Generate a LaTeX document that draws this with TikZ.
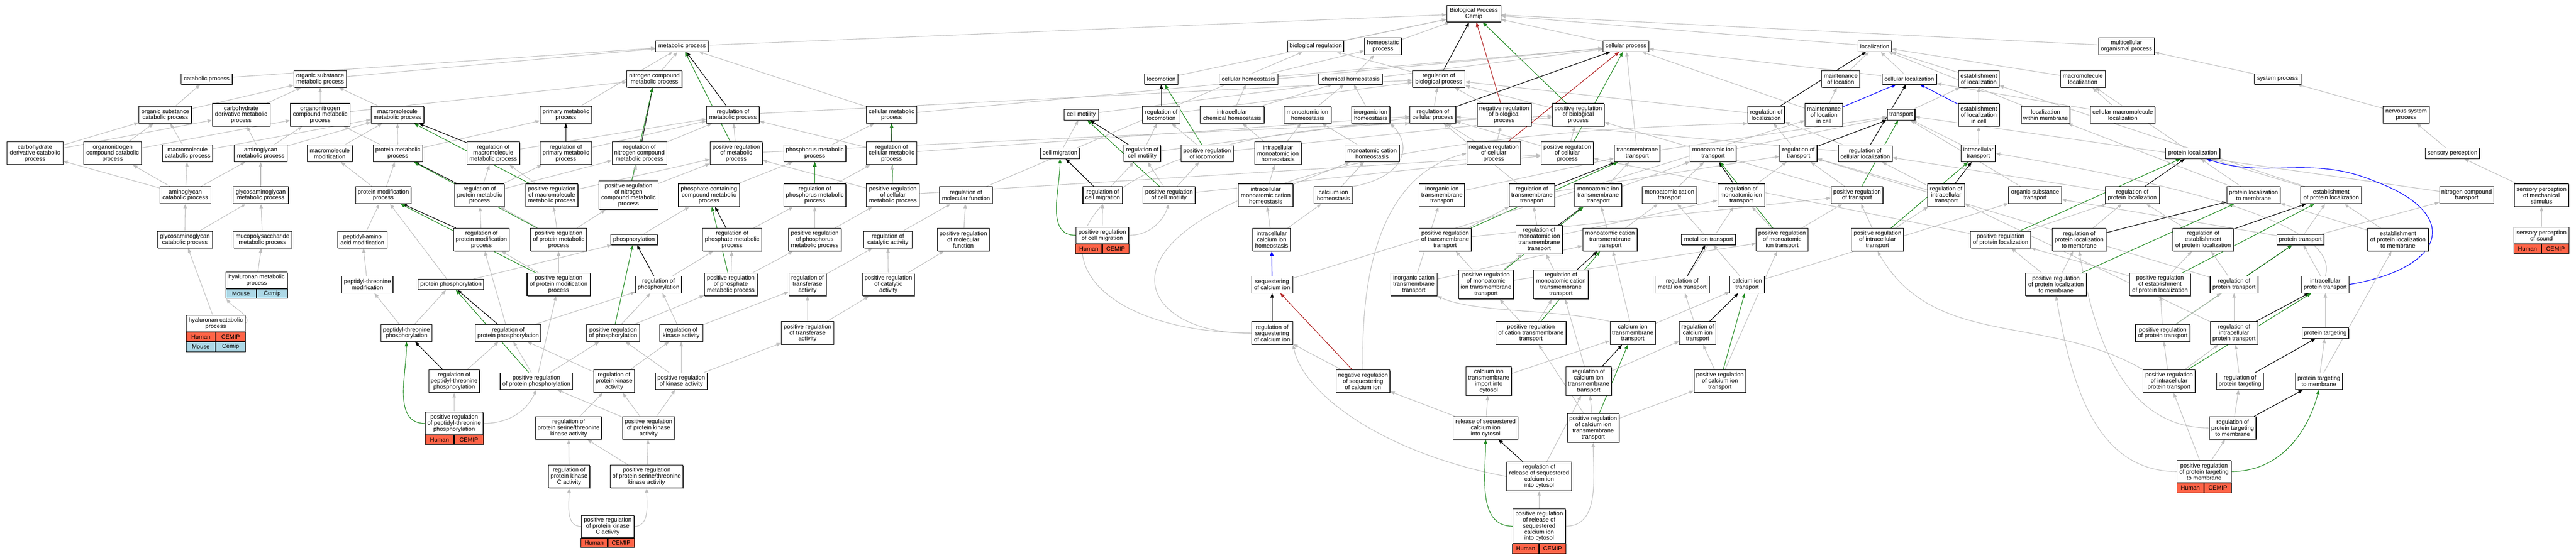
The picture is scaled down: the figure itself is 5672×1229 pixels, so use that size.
\documentclass[tikz,border=0pt]{standalone}
\usepackage{fontspec}
\setmainfont{Liberation Sans}
\usetikzlibrary{arrows.meta,shadows}
\definecolor{egray}{HTML}{BEBEBE}
\definecolor{egreen}{HTML}{228B22}
\definecolor{ered}{HTML}{B22222}
\definecolor{eblue}{HTML}{0000FF}
\definecolor{htom}{HTML}{FF6347}
\definecolor{mblue}{HTML}{ADD8E6}
\pgfdeclarelayer{back}\pgfdeclarelayer{edges}\pgfsetlayers{back,edges,main}
\tikzset{
 box/.style={draw=black,line width=1.2pt,fill=white,align=center,inner xsep=2pt,inner ysep=2pt,font=\fontsize{13}{13.5}\selectfont,drop shadow={shadow xshift=1.2pt,shadow yshift=-1.2pt,fill=black!65,opacity=1}},
 hcell/.style={draw=black,line width=1.2pt,fill=htom,inner sep=0pt,minimum height=21pt,font=\fontsize{13}{13.5}\selectfont},
 mcell/.style={draw=black,line width=1.2pt,fill=mblue,inner sep=0pt,minimum height=21pt,font=\fontsize{13}{13.5}\selectfont},
 myarrow/.style={-{Triangle[length=10pt,width=7.5pt]}},
 ge/.style={draw=egray,line width=1.2pt,myarrow},
 gk/.style={draw=black,line width=1.3pt,myarrow},
 gg/.style={draw=egreen,line width=1.3pt,myarrow},
 gr/.style={draw=ered,line width=1.3pt,myarrow},
 gb/.style={draw=eblue,line width=1.3pt,myarrow},
}
\newcommand\mynode[6]{\node[box,minimum width=#4pt,minimum height=#5pt] (#1) at (#2,#3) {#6};}
\newcommand\mygnode[6]{\node[box,anchor=north,minimum width=#4pt,minimum height=#5pt] (#1) at (#2,#3) {#6};}
\newcommand\myhrow[3]{\node[hcell,anchor=north east,minimum width=#3pt] (#1a) at (#2) {Human};\node[hcell,anchor=north west,minimum width=#3pt] (#1b) at (#2) {CEMIP};}
\newcommand\mymrow[3]{\node[mcell,anchor=north east,minimum width=#3pt] (#1a) at (#2) {Mouse};\node[mcell,anchor=north west,minimum width=#3pt] (#1b) at (#2) {Cemip};}
\newcommand\myedge[3]{\draw[#1] (#2) -- (#3);}
\begin{document}
\begin{tikzpicture}[x=1pt,y=-1pt]
\begin{pgfonlayer}{back}\fill[white] (0,0) rectangle (5672,1229);\end{pgfonlayer}
\useasboundingbox (0,0) rectangle (5672,1229);
% row 30
\mynode{BP}{3245}{30}{119}{37}{Biological Process\\Cemip}
% row 102
\mynode{met}{1502}{102}{116}{23}{metabolic process}
\mynode{breg}{2897}{102}{123}{23}{biological regulation}
\mynode{homeo}{3045}{102}{81}{37}{homeostatic\\process}
\mynode{cproc}{3580}{102}{101}{23}{cellular process}
\mynode{loc}{4128}{102}{74}{23}{localization}
\mynode{multi}{4682}{102}{123}{37}{multicellular\\organismal process}
% row 174
\mynode{cat}{455}{174}{113}{23}{catabolic process}
\mynode{osm}{705}{174}{115}{37}{organic substance\\metabolic process}
\mynode{ncm}{1441}{174}{121}{37}{nitrogen compound\\metabolic process}
\mynode{locom}{2557}{174}{73}{23}{locomotion}
\mynode{chom}{2749}{174}{129}{23}{cellular homeostasis}
\mynode{chemh}{2974}{174}{140}{23}{chemical homeostasis}
\mynode{rbp}{3168}{174}{115}{37}{regulation of\\biological process}
\mynode{mloc}{4053}{174}{84}{37}{maintenance\\of location}
\mynode{cloc}{4204}{174}{120}{23}{cellular localization}
\mynode{eloc}{4357}{174}{89}{37}{establishment\\of localization}
\mynode{mmloc}{4586}{174}{99}{37}{macromolecule\\localization}
\mynode{sysp}{5015}{174}{103}{23}{system process}
% row 253
\mynode{osc}{364}{253}{116}{37}{organic substance\\catabolic process}
\mynode{cdm}{531}{253}{127}{50}{carbohydrate\\derivative metabolic\\process}
\mynode{oncm}{705}{253}{131}{50}{organonitrogen\\compound metabolic\\process}
\mynode{mmm}{875}{253}{116}{37}{macromolecule\\metabolic process}
\mynode{pmp}{1246}{253}{113}{37}{primary metabolic\\process}
\mynode{rmp}{1614}{253}{116}{37}{regulation of\\metabolic process}
\mynode{cmp}{1963}{253}{111}{37}{cellular metabolic\\process}
\mynode{cmot}{2381}{253}{76}{23}{cell motility}
\mynode{rlocom}{2557}{253}{82}{37}{regulation of\\locomotion}
\mynode{icheh}{2713}{253}{141}{37}{intracellular\\chemical homeostasis}
\mynode{mih}{2879}{253}{104}{37}{monoatomic ion\\homeostasis}
\mynode{iih}{3018}{253}{84}{37}{inorganic ion\\homeostasis}
\mynode{rcp}{3155}{253}{101}{37}{regulation of\\cellular process}
\mynode{nrbp}{3312}{253}{119}{50}{negative regulation\\of biological\\process}
\mynode{prbp}{3475}{253}{114}{50}{positive regulation\\of biological\\process}
\mynode{rloc}{3889}{253}{81}{37}{regulation of\\localization}
\mynode{mlocc}{4016}{253}{83}{50}{maintenance\\of location\\in cell}
\mynode{transp}{4186}{253}{61}{23}{transport}
\mynode{elocc}{4357}{253}{90}{50}{establishment\\of localization\\in cell}
\mynode{locwm}{4504}{253}{107}{37}{localization\\within membrane}
\mynode{cmmloc}{4674}{253}{142}{37}{cellular macromolecule\\localization}
\mynode{nsp}{5298}{253}{102}{37}{nervous system\\process}
% row 338
\mynode{cdc}{77}{338}{123}{50}{carbohydrate\\derivative catabolic\\process}
\mynode{oncc}{248}{338}{127}{50}{organonitrogen\\compound catabolic\\process}
\mynode{mmc}{413}{338}{110}{37}{macromolecule\\catabolic process}
\mynode{agm}{574}{338}{116}{37}{aminoglycan\\metabolic process}
\mynode{mmmod}{726}{338}{99}{37}{macromolecule\\modification}
\mynode{protm}{876}{338}{109}{37}{protein metabolic\\process}
\mynode{rmmm}{1086}{338}{116}{50}{regulation of\\macromolecule\\metabolic process}
\mynode{rpmp}{1246}{338}{113}{50}{regulation of\\primary metabolic\\process}
\mynode{rncm}{1408}{338}{120}{50}{regulation of\\nitrogen compound\\metabolic process}
\mynode{prmp}{1621}{338}{115}{50}{positive regulation\\of metabolic\\process}
\mynode{phosm}{1794}{338}{137}{37}{phosphorus metabolic\\process}
\mynode{rcmp}{1963}{338}{111}{50}{regulation of\\cellular metabolic\\process}
\mynode{cmig}{2334}{338}{87}{23}{cell migration}
\mynode{rcmot}{2515}{338}{81}{37}{regulation of\\cell motility}
\mynode{prlocom}{2658}{338}{115}{37}{positive regulation\\of locomotion}
\mynode{imih}{2814}{338}{102}{50}{intracellular\\monoatomic ion\\homeostasis}
\mynode{mch}{3021}{338}{120}{37}{monoatomic cation\\homeostasis}
\mynode{nrcp}{3289}{338}{118}{50}{negative regulation\\of cellular\\process}
\mynode{prcp}{3451}{338}{115}{50}{positive regulation\\of cellular\\process}
\mynode{tmt}{3605}{338}{100}{37}{transmembrane\\transport}
\mynode{mit}{3772}{338}{101}{37}{monoatomic ion\\transport}
\mynode{rtransp}{3960}{338}{82}{37}{regulation of\\transport}
\mynode{rcloc}{4107}{338}{119}{37}{regulation of\\cellular localization}
\mynode{ict}{4356}{338}{75}{37}{intracellular\\transport}
\mynode{ploc}{4828}{338}{119}{23}{protein localization}
\mynode{sensp}{5400}{338}{119}{23}{sensory perception}
% row 430
\mynode{agc}{408}{430}{112}{37}{aminoglycan\\catabolic process}
\mynode{gagm}{574}{430}{122}{37}{glycosaminoglycan\\metabolic process}
\mynode{pmod}{844}{430}{122}{37}{protein modification\\process}
\mynode{rprotm}{1056}{430}{109}{50}{regulation of\\protein metabolic\\process}
\mynode{prmmm}{1215}{430}{115}{50}{positive regulation\\of macromolecule\\metabolic process}
\mynode{prncm}{1384}{430}{130}{63}{positive regulation\\of nitrogen\\compound metabolic\\process}
\mynode{pcm}{1561}{430}{134}{50}{phosphate-containing\\compound metabolic\\process}
\mynode{rphosm}{1794}{430}{137}{50}{regulation of\\phosphorus metabolic\\process}
\mynode{prcmp}{1966}{430}{116}{50}{positive regulation\\of cellular\\metabolic process}
\mynode{rmf}{2127}{430}{116}{37}{regulation of\\molecular function}
\mynode{rcmig}{2428}{430}{87}{37}{regulation of\\cell migration}
\mynode{prcmot}{2574}{430}{115}{37}{positive regulation\\of cell motility}
\mynode{imch}{2787}{430}{120}{50}{intracellular\\monoatomic cation\\homeostasis}
\mynode{cih}{2936}{430}{85}{37}{calcium ion\\homeostasis}
\mynode{iitmt}{3175}{430}{100}{50}{inorganic ion\\transmembrane\\transport}
\mynode{rtmt}{3373}{430}{100}{50}{regulation of\\transmembrane\\transport}
\mynode{mitmt}{3519}{430}{103}{50}{monoatomic ion\\transmembrane\\transport}
\mynode{mct}{3676}{430}{120}{37}{monoatomic cation\\transport}
\mynode{rmit}{3834}{430}{103}{50}{regulation of\\monoatomic ion\\transport}
\mynode{prtransp}{4089}{430}{114}{37}{positive regulation\\of transport}
\mynode{rict}{4285}{430}{81}{50}{regulation of\\intracellular\\transport}
\mynode{ost}{4481}{430}{116}{37}{organic substance\\transport}
\mynode{rploc}{4695}{430}{119}{37}{regulation of\\protein localization}
\mynode{ploctm}{4962}{430}{117}{37}{protein localization\\to membrane}
\mynode{eploc}{5133}{430}{134}{37}{establishment\\of protein localization}
\mynode{nct}{5431}{430}{119}{37}{nitrogen compound\\transport}
\mynode{spms}{5596}{430}{120}{50}{sensory perception\\of mechanical\\stimulus}
% row 528
\mynode{gagc}{407}{528}{121}{37}{glycosaminoglycan\\catabolic process}
\mynode{mpsm}{578}{528}{129}{37}{mucopolysaccharide\\metabolic process}
\mynode{paam}{798}{528}{108}{37}{peptidyl-amino\\acid modification}
\mynode{rpmod}{1060}{528}{122}{50}{regulation of\\protein modification\\process}
\mynode{prprotm}{1230}{528}{124}{50}{positive regulation\\of protein metabolic\\process}
\mynode{phos}{1396}{528}{102}{23}{phosphorylation}
\mynode{rphm}{1612}{528}{130}{50}{regulation of\\phosphate metabolic\\process}
\mynode{prphosm}{1794}{528}{116}{50}{positive regulation\\of phosphorus\\metabolic process}
\mynode{rca}{1955}{528}{106}{37}{regulation of\\catalytic activity}
\mynode{prmf}{2121}{528}{115}{50}{positive regulation\\of molecular\\function}
\mygnode{prcmig}{2427}{500}{116}{36}{positive regulation\\of cell migration}
\myhrow{prcmigH}{prcmig.south}{58}
\mynode{icih}{2800}{528}{83}{50}{intracellular\\calcium ion\\homeostasis}
\mynode{prtmt}{3182}{528}{115}{50}{positive regulation\\of transmembrane\\transport}
\mynode{rmitmt}{3389}{528}{103}{63}{regulation of\\monoatomic ion\\transmembrane\\transport}
\mynode{mctmt}{3545}{528}{120}{50}{monoatomic cation\\transmembrane\\transport}
\mynode{mitr}{3762}{528}{119}{23}{metal ion transport}
\mynode{prmit}{3924}{528}{114}{50}{positive regulation\\of monoatomic\\ion transport}
\mynode{prict}{4134}{528}{115}{50}{positive regulation\\of intracellular\\transport}
\mynode{prploc}{4405}{528}{133}{37}{positive regulation\\of protein localization}
\mynode{rploctm}{4578}{528}{118}{50}{regulation of\\protein localization\\to membrane}
\mynode{reploc}{4851}{528}{133}{50}{regulation of\\establishment\\of protein localization}
\mynode{ptr}{5065}{528}{104}{23}{protein transport}
\mynode{eploctm}{5280}{528}{134}{50}{establishment\\of protein localization\\to membrane}
\mygnode{sps}{5596}{500}{121}{36}{sensory perception\\of sound}
\myhrow{spsH}{sps.south}{60.5}
% row 627
\mygnode{hyam}{565}{599}{135}{36}{hyaluronan metabolic\\process}
\mymrow{hyamM}{hyam.south}{67.5}
\mynode{ptm}{809}{627}{112}{37}{peptidyl-threonine\\modification}
\mynode{pphos}{993}{627}{144}{23}{protein phosphorylation}
\mynode{prpmod}{1230}{627}{139}{50}{positive regulation\\of protein modification\\process}
\mynode{rphosph}{1450}{627}{101}{37}{regulation of\\phosphorylation}
\mynode{prphm}{1609}{627}{116}{50}{positive regulation\\of phosphate\\metabolic process}
\mynode{rta}{1778}{627}{82}{50}{regulation of\\transferase\\activity}
\mynode{prca}{1956}{627}{114}{50}{positive regulation\\of catalytic\\activity}
\mynode{seqca}{2801}{627}{91}{37}{sequestering\\of calcium ion}
\mynode{ictmt}{3113}{627}{102}{50}{inorganic cation\\transmembrane\\transport}
\mynode{prmitmt}{3272}{627}{121}{64}{positive regulation\\of monoatomic\\ion transmembrane\\transport}
\mynode{rmctmt}{3437}{627}{120}{64}{regulation of\\monoatomic cation\\transmembrane\\transport}
\mynode{rmitr}{3704}{627}{119}{37}{regulation of\\metal ion transport}
\mynode{catr}{3847}{627}{76}{37}{calcium ion\\transport}
\mynode{prploctm}{4527}{627}{134}{50}{positive regulation\\of protein localization\\to membrane}
\mynode{preploc}{4756}{627}{134}{50}{positive regulation\\of establishment\\of protein localization}
\mynode{rptr}{4919}{627}{105}{37}{regulation of\\protein transport}
\mynode{iptr}{5120}{627}{104}{37}{intracellular\\protein transport}
% row 734
\mygnode{hyac}{475}{694}{129}{36}{hyaluronan catabolic\\process}
\myhrow{hyacH}{hyac.south}{64.5}
\mymrow{hyacM}{hyacHa.south east}{64.5}
\mynode{ptp}{895}{734}{112}{37}{peptidyl-threonine\\phosphorylation}
\mynode{rpphos}{1119}{734}{144}{37}{regulation of\\protein phosphorylation}
\mynode{prphosph}{1350}{734}{116}{37}{positive regulation\\of phosphorylation}
\mynode{rka}{1500}{734}{95}{37}{regulation of\\kinase activity}
\mynode{prta}{1778}{734}{115}{50}{positive regulation\\of transferase\\activity}
\mynode{rseqca}{2801}{734}{91}{50}{regulation of\\sequestering\\of calcium ion}
\mynode{prctmt}{3371}{734}{155}{50}{positive regulation\\of cation transmembrane\\transport}
\mynode{catmt}{3595}{734}{100}{50}{calcium ion\\transmembrane\\transport}
\mynode{rcat}{3738}{734}{80}{50}{regulation of\\calcium ion\\transport}
\mynode{prptr}{4762}{734}{120}{37}{positive regulation\\of protein transport}
\mynode{rIPT}{4919}{734}{104}{50}{regulation of\\intracellular\\protein transport}
\mynode{ptarg}{5120}{734}{103}{23}{protein targeting}
% row 840
\mynode{rptp}{1000}{840}{112}{50}{regulation of\\peptidyl-threonine\\phosphorylation}
\mynode{prpphos}{1181}{840}{159}{37}{positive regulation\\of protein phosphorylation}
\mynode{rpka}{1352}{840}{90}{50}{regulation of\\protein kinase\\activity}
\mynode{prka}{1500}{840}{114}{37}{positive regulation\\of kinase activity}
\mynode{nrseqca}{3001}{840}{119}{50}{negative regulation\\of sequestering\\of calcium ion}
\mynode{catmic}{3278}{840}{100}{63}{calcium ion\\transmembrane\\import into\\cytosol}
\mynode{rcatmt}{3498}{840}{100}{63}{regulation of\\calcium ion\\transmembrane\\transport}
\mynode{prcat}{3787}{840}{114}{50}{positive regulation\\of calcium ion\\transport}
\mynode{priptr}{4776}{840}{114}{50}{positive regulation\\of intracellular\\protein transport}
\mynode{rptarg}{4932}{840}{103}{37}{regulation of\\protein targeting}
\mynode{ptargm}{5106}{840}{103}{37}{protein targeting\\to membrane}
% row 943
\mygnode{prptp}{1000}{908}{127}{49}{positive regulation\\of peptidyl-threonine\\phosphorylation}
\myhrow{prptpH}{prptp.south}{63.5}
\mynode{rpska}{1252}{943}{145}{50}{regulation of\\protein serine/threonine\\kinase activity}
\mynode{prpka}{1428}{943}{114}{50}{positive regulation\\of protein kinase\\activity}
\mynode{rseq}{3271}{943}{142}{50}{release of sequestered\\calcium ion\\into cytosol}
\mynode{prcatmt}{3508}{943}{114}{63}{positive regulation\\of calcium ion\\transmembrane\\transport}
\mynode{rptargm}{4916}{943}{103}{50}{regulation of\\protein targeting\\to membrane}
% row 1050
\mynode{rpkc}{1253}{1050}{91}{50}{regulation of\\protein kinase\\C activity}
\mynode{prpska}{1424}{1050}{160}{50}{positive regulation\\of protein serine/threonine\\kinase activity}
\mynode{rrseq}{3389}{1050}{142}{63}{regulation of\\release of sequestered\\calcium ion\\into cytosol}
\mygnode{prptargm}{4853}{1014}{119}{49}{positive regulation\\of protein targeting\\to membrane}
\myhrow{prptargmH}{prptargm.south}{59.5}
% bottom
\mygnode{prpkc}{1338}{1135}{116}{49}{positive regulation\\of protein kinase\\C activity}
\myhrow{prpkcH}{prpkc.south}{58}
\mygnode{prrseq}{3389}{1121}{116}{76}{positive regulation\\of release of\\sequestered\\calcium ion\\into cytosol}
\myhrow{prrseqH}{prrseq.south}{58}

\begin{pgfonlayer}{edges}
% to root
\myedge{ge}{met}{BP}\myedge{ge}{breg}{BP}\myedge{ge}{homeo}{BP}\myedge{ge}{cproc}{BP}
\myedge{ge}{loc}{BP}\myedge{ge}{multi}{BP}\myedge{ge}{locom}{BP}
\myedge{gk}{rbp}{BP}\myedge{gr}{nrbp}{BP}\myedge{gg}{prbp}{BP}
% row 174
\myedge{ge}{cat}{met}\myedge{ge}{osm}{met}\myedge{ge}{ncm}{met}
\myedge{ge}{chom}{homeo}\myedge{ge}{chom}{cproc}\myedge{ge}{chemh}{homeo}
\myedge{ge}{rbp}{breg}\myedge{ge}{mloc}{loc}\myedge{ge}{cloc}{loc}\myedge{ge}{cloc}{cproc}
\myedge{ge}{eloc}{loc}\myedge{ge}{mmloc}{loc}\myedge{ge}{sysp}{multi}
% row 253
\myedge{ge}{osc}{cat}\myedge{ge}{osc}{osm}\myedge{ge}{cdm}{osm}
\myedge{ge}{oncm}{osm}\myedge{ge}{oncm}{ncm}\myedge{ge}{mmm}{osm}
\myedge{ge}{pmp}{met}\myedge{gk}{rmp}{met}\myedge{ge}{rmp}{rbp}
\myedge{ge}{cmp}{met}\myedge{ge}{cmp}{cproc}\myedge{ge}{cmot}{cproc}
\myedge{gk}{rlocom}{locom}\myedge{ge}{rlocom}{rbp}
\myedge{ge}{icheh}{chom}\myedge{ge}{icheh}{chemh}\myedge{ge}{mih}{chemh}\myedge{ge}{iih}{chemh}
\myedge{ge}{rcp}{rbp}\myedge{gk}{rcp}{cproc}\myedge{ge}{nrbp}{rbp}\myedge{ge}{prbp}{rbp}
\myedge{gk}{rloc}{loc}\myedge{ge}{rloc}{rbp}
\myedge{ge}{mlocc}{mloc}\myedge{gb}{mlocc}{cloc}\myedge{ge}{mlocc}{cproc}
\myedge{ge}{transp}{eloc}\myedge{ge}{elocc}{eloc}\myedge{gb}{elocc}{cloc}
\myedge{ge}{locwm}{loc}\myedge{ge}{cmmloc}{mmloc}\myedge{ge}{cmmloc}{cloc}\myedge{ge}{nsp}{sysp}
% row 338
\myedge{ge}{cdc}{osc}\myedge{ge}{cdc}{cdm}\myedge{ge}{oncc}{osc}\myedge{ge}{oncc}{oncm}
\myedge{ge}{mmc}{osc}\myedge{ge}{mmc}{mmm}
\myedge{ge}{agm}{cdm}\myedge{ge}{agm}{oncm}\myedge{ge}{agm}{mmm}
\myedge{ge}{mmmod}{mmm}\myedge{ge}{protm}{oncm}\myedge{ge}{protm}{mmm}\myedge{ge}{protm}{pmp}
\myedge{gk}{rmmm}{mmm}\myedge{ge}{rmmm}{rmp}\myedge{gk}{rpmp}{pmp}\myedge{ge}{rpmp}{rmp}
\myedge{gk}{rncm}{ncm}\myedge{ge}{rncm}{rmp}
\myedge{gg}{prmp}{met}\myedge{ge}{prmp}{rmp}\myedge{ge}{prmp}{prbp}
\myedge{ge}{phosm}{cmp}\myedge{gk}{rcmp}{cmp}\myedge{ge}{rcmp}{rmp}\myedge{ge}{rcmp}{rcp}
\myedge{ge}{cmig}{cmot}\myedge{gk}{rcmot}{cmot}\myedge{ge}{rcmot}{rlocom}\myedge{ge}{rcmot}{rcp}
\myedge{ge}{prlocom}{rlocom}\myedge{gg}{prlocom}{locom}\myedge{ge}{prlocom}{prbp}
\myedge{ge}{imih}{icheh}\myedge{ge}{imih}{mih}\myedge{ge}{mch}{mih}
\myedge{ge}{nrcp}{rcp}\myedge{ge}{nrcp}{nrbp}\myedge{gr}{nrcp}{cproc}
\myedge{ge}{prcp}{rcp}\myedge{ge}{prcp}{prbp}\myedge{gg}{prcp}{cproc}
\myedge{ge}{tmt}{transp}\myedge{ge}{tmt}{cproc}\myedge{ge}{mit}{transp}
\myedge{gk}{rtransp}{transp}\myedge{ge}{rtransp}{rloc}
\myedge{gk}{rcloc}{cloc}\myedge{ge}{rcloc}{rloc}\myedge{ge}{rcloc}{rcp}
\myedge{ge}{ict}{transp}\myedge{ge}{ict}{elocc}\myedge{ge}{ploc}{mmloc}\myedge{ge}{sensp}{nsp}
% row 430
\myedge{ge}{agc}{cdc}\myedge{ge}{agc}{oncc}\myedge{ge}{agc}{mmc}\myedge{ge}{agc}{agm}
\myedge{ge}{gagm}{agm}\myedge{ge}{pmod}{mmmod}\myedge{ge}{pmod}{protm}
\myedge{gk}{rprotm}{protm}\myedge{ge}{rprotm}{rmmm}\myedge{ge}{rprotm}{rpmp}\myedge{ge}{rprotm}{rncm}
\myedge{gg}{prmmm}{mmm}\myedge{ge}{prmmm}{rmmm}\myedge{ge}{prmmm}{prmp}
\myedge{gg}{prncm}{ncm}\myedge{ge}{prncm}{rncm}\myedge{ge}{prncm}{prmp}
\myedge{ge}{pcm}{phosm}\myedge{gk}{rphosm}{phosm}\myedge{ge}{rphosm}{rcmp}
\myedge{gg}{prcmp}{cmp}\myedge{ge}{prcmp}{rcmp}\myedge{ge}{prcmp}{prmp}\myedge{ge}{prcmp}{prcp}
\myedge{ge}{rmf}{breg}\myedge{gk}{rcmig}{cmig}\myedge{ge}{rcmig}{rcmot}
\myedge{ge}{prcmot}{rcmot}\myedge{gg}{prcmot}{cmot}\myedge{ge}{prcmot}{prlocom}\myedge{ge}{prcmot}{prcp}
\myedge{ge}{imch}{imih}\myedge{ge}{imch}{mch}\myedge{ge}{cih}{mch}
\draw[ge] (cih.north east) .. controls (3095,390) and (3110,320) .. (iih.south east);
\myedge{ge}{iitmt}{tmt}\myedge{gk}{rtmt}{tmt}\myedge{ge}{rtmt}{rtransp}\myedge{ge}{rtmt}{rcp}
\myedge{ge}{mitmt}{tmt}\myedge{ge}{mitmt}{mit}\myedge{ge}{mct}{mit}
\myedge{gk}{rmit}{mit}\myedge{ge}{rmit}{rtransp}
\myedge{gg}{prtransp}{transp}\myedge{ge}{prtransp}{rtransp}\myedge{ge}{prtransp}{prbp}
\myedge{gk}{rict}{ict}\myedge{ge}{rict}{rtransp}\myedge{ge}{rict}{rcloc}
\myedge{ge}{ost}{transp}\myedge{gk}{rploc}{ploc}\myedge{ge}{rploc}{rcloc}
\myedge{ge}{ploctm}{ploc}\myedge{ge}{ploctm}{locwm}\myedge{ge}{eploc}{ploc}\myedge{ge}{eploc}{eloc}
\myedge{ge}{nct}{transp}\myedge{ge}{spms}{sensp}
% row 528
\myedge{ge}{gagc}{agc}\myedge{ge}{gagc}{gagm}\myedge{ge}{mpsm}{gagm}\myedge{ge}{paam}{pmod}
\myedge{gk}{rpmod}{pmod}\myedge{ge}{rpmod}{rprotm}
\myedge{gg}{prprotm}{protm}\myedge{ge}{prprotm}{rprotm}\myedge{ge}{prprotm}{prmmm}\myedge{ge}{prprotm}{prncm}
\myedge{ge}{phos}{pcm}\myedge{gk}{rphm}{pcm}\myedge{ge}{rphm}{rphosm}
\myedge{gg}{prphosm}{phosm}\myedge{ge}{prphosm}{rphosm}\myedge{ge}{prphosm}{prcmp}
\myedge{ge}{rca}{rmf}\myedge{ge}{prmf}{rmf}
\draw[gg] (prcmig.west) to[out=180,in=-90] (cmig.south);
\myedge{ge}{prcmig}{rcmig}
\draw[ge] (prcmig.east) to[out=0,in=-110] (prcmot.south);
\myedge{ge}{icih}{imch}\myedge{ge}{icih}{cih}
\myedge{gg}{prtmt}{tmt}\myedge{ge}{prtmt}{rtmt}\myedge{ge}{prtmt}{prtransp}
\myedge{gk}{rmitmt}{mitmt}\myedge{ge}{rmitmt}{rtmt}\myedge{ge}{rmitmt}{rmit}
\myedge{ge}{mctmt}{mitmt}\myedge{ge}{mctmt}{mct}\myedge{ge}{mitr}{mct}
\myedge{gg}{prmit}{mit}\myedge{ge}{prmit}{rmit}\myedge{ge}{prmit}{prtransp}
\myedge{gg}{prict}{ict}\myedge{ge}{prict}{rict}\myedge{ge}{prict}{prtransp}
\myedge{gg}{prploc}{ploc}\myedge{ge}{prploc}{rploc}\myedge{ge}{prploc}{prcp}
\myedge{gk}{rploctm}{ploctm}\myedge{ge}{rploctm}{rploc}
\myedge{gk}{reploc}{eploc}\myedge{ge}{reploc}{rploc}
\myedge{ge}{ptr}{eploc}\myedge{ge}{ptr}{ost}\myedge{ge}{ptr}{nct}
\myedge{ge}{eploctm}{ploctm}\myedge{ge}{eploctm}{eploc}\myedge{ge}{sps}{spms}
% row 627
\myedge{ge}{hyam}{mpsm}\myedge{ge}{ptm}{paam}\myedge{ge}{pphos}{pmod}\myedge{ge}{pphos}{phos}
\myedge{gg}{prpmod}{pmod}\myedge{ge}{prpmod}{rpmod}\myedge{ge}{prpmod}{prprotm}
\myedge{gk}{rphosph}{phos}\myedge{ge}{rphosph}{rphm}
\myedge{gg}{prphm}{pcm}\myedge{ge}{prphm}{rphm}\myedge{ge}{prphm}{prphosm}
\myedge{ge}{rta}{rca}\myedge{ge}{prca}{rca}\myedge{ge}{prca}{prmf}
\myedge{gb}{seqca}{icih}\myedge{ge}{seqca}{mlocc}
\myedge{ge}{ictmt}{iitmt}\myedge{ge}{ictmt}{mctmt}
\myedge{gg}{prmitmt}{mitmt}\myedge{ge}{prmitmt}{rmitmt}\myedge{ge}{prmitmt}{prtmt}\myedge{ge}{prmitmt}{prmit}
\myedge{gk}{rmctmt}{mctmt}\myedge{ge}{rmctmt}{rmitmt}
\myedge{gk}{rmitr}{mitr}\myedge{ge}{rmitr}{rmit}
\myedge{ge}{catr}{mitr}\myedge{ge}{catr}{ost}
\myedge{gg}{prploctm}{ploctm}\myedge{ge}{prploctm}{prploc}\myedge{ge}{prploctm}{rploctm}
\myedge{gg}{preploc}{eploc}\myedge{ge}{preploc}{reploc}\myedge{ge}{preploc}{prploc}
\myedge{gk}{rptr}{ptr}\myedge{ge}{rptr}{reploc}\myedge{ge}{rptr}{rtransp}
\myedge{ge}{iptr}{ptr}
\draw[ge] (iptr.north) .. controls (5160,480) and (4700,390) .. (ict.east);
\draw[gb] (iptr.east) .. controls (5390,590) and (5420,470) .. (5230,400) .. controls (5090,340) and (4990,395) .. ([xshift=-30pt]ploc.south east);
% row 734
\myedge{ge}{hyac}{gagc}
\draw[ge] (hyac.east) .. controls (558,700) and (512,676) .. ([xshift=2pt]hyamMa.south west);
\myedge{ge}{ptp}{ptm}\myedge{ge}{ptp}{pphos}
\myedge{gk}{rpphos}{pphos}\myedge{ge}{rpphos}{rphosph}\myedge{ge}{rpphos}{rpmod}
\myedge{gg}{prphosph}{phos}\myedge{ge}{prphosph}{rphosph}\myedge{ge}{prphosph}{prphm}
\myedge{ge}{rka}{rphosph}\myedge{ge}{rka}{rta}\myedge{ge}{prta}{rta}\myedge{ge}{prta}{prca}
\myedge{gk}{rseqca}{seqca}
\draw[ge] (rseqca.west) .. controls (2230,730) and (2190,300) .. (rcp.south west);
\draw[ge] (rseqca.west) .. controls (2400,740) and (2330,310) .. (rloc.south west);
\myedge{gg}{prctmt}{mctmt}\myedge{ge}{prctmt}{rmctmt}\myedge{ge}{prctmt}{prmitmt}
\draw[ge] (catmt.north west) .. controls (3420,680) and (3250,690) .. (ictmt.south east);
\myedge{ge}{catmt}{mctmt}\myedge{ge}{catmt}{catr}
\myedge{gk}{rcat}{catr}\myedge{ge}{rcat}{rmitr}
\myedge{gg}{prptr}{ptr}\myedge{ge}{prptr}{rptr}\myedge{ge}{prptr}{preploc}
\myedge{gk}{rIPT}{iptr}\myedge{ge}{rIPT}{rptr}\myedge{ge}{rIPT}{rict}
\myedge{ge}{ptarg}{iptr}
% row 840
\myedge{gk}{rptp}{ptp}\myedge{ge}{rptp}{rpphos}
\myedge{gg}{prpphos}{pphos}\myedge{ge}{prpphos}{rpphos}\myedge{ge}{prpphos}{prpmod}\myedge{ge}{prpphos}{prphosph}
\myedge{ge}{rpka}{rpphos}\myedge{ge}{rpka}{rka}
\myedge{ge}{prka}{rka}\myedge{ge}{prka}{prphosph}\myedge{ge}{prka}{prta}
\myedge{ge}{nrseqca}{rseqca}\myedge{gr}{nrseqca}{seqca}
\draw[ge] (nrseqca.north) .. controls (2995,560) and (3060,380) .. (nrcp.west);
\myedge{ge}{catmic}{catmt}
\myedge{gk}{rcatmt}{catmt}\myedge{ge}{rcatmt}{rcat}\myedge{ge}{rcatmt}{rmctmt}
\myedge{ge}{prcat}{rcat}\myedge{gg}{prcat}{catr}\myedge{ge}{prcat}{prmit}
\myedge{gg}{priptr}{iptr}\myedge{ge}{priptr}{prptr}\myedge{ge}{priptr}{rIPT}
\draw[ge] (priptr.north west) to[out=150,in=-60] (prict.south);
\myedge{gk}{rptarg}{ptarg}\myedge{ge}{rptarg}{rIPT}
\myedge{ge}{ptargm}{ptarg}\myedge{ge}{ptargm}{eploctm}
% row 943
\draw[gg] (prptp.west) to[out=180,in=-90] (ptp.south);
\myedge{ge}{prptp}{rptp}
\draw[ge] (prptp.east) to[out=0,in=-115] (prpphos.south);
\myedge{ge}{rpska}{rpka}
\myedge{ge}{prpka}{rpka}\myedge{ge}{prpka}{prka}\myedge{ge}{prpka}{prpphos}
\myedge{ge}{rseq}{catmic}\myedge{ge}{rseq}{nrseqca}
\myedge{gg}{prcatmt}{catmt}\myedge{ge}{prcatmt}{rcatmt}\myedge{ge}{prcatmt}{prcat}\myedge{ge}{prcatmt}{prctmt}
\myedge{gk}{rptargm}{ptargm}\myedge{ge}{rptargm}{rptarg}
\draw[ge] (rptargm.west) to[out=180,in=-80] (rploctm.south);
% row 1050
\myedge{ge}{rpkc}{rpska}\myedge{ge}{prpska}{rpska}\myedge{ge}{prpska}{prpka}
\myedge{gk}{rrseq}{rseq}\myedge{ge}{rrseq}{rcatmt}
\draw[ge] (rrseq.west) .. controls (3050,1000) and (2870,870) .. (rseqca.south east);
\myedge{ge}{prptargm}{rptargm}\myedge{ge}{prptargm}{priptr}
\draw[gg] (prptargm.east) to[out=0,in=-105] (ptargm.south);
\draw[ge] (prptargm.west) to[out=180,in=-80] (prploctm.south);
% bottom
\draw[ge] (prpkc.west) to[out=180,in=-90] (rpkc.south);
\draw[ge] (prpkc.east) to[out=0,in=-90] (prpska.south);
\myedge{ge}{prrseq}{rrseq}
\draw[gg] (prrseq.west) to[out=180,in=-90] (rseq.south);
\draw[ge] (prrseq.east) to[out=0,in=-90] (prcatmt.south);
\end{pgfonlayer}
\end{tikzpicture}
\end{document}
